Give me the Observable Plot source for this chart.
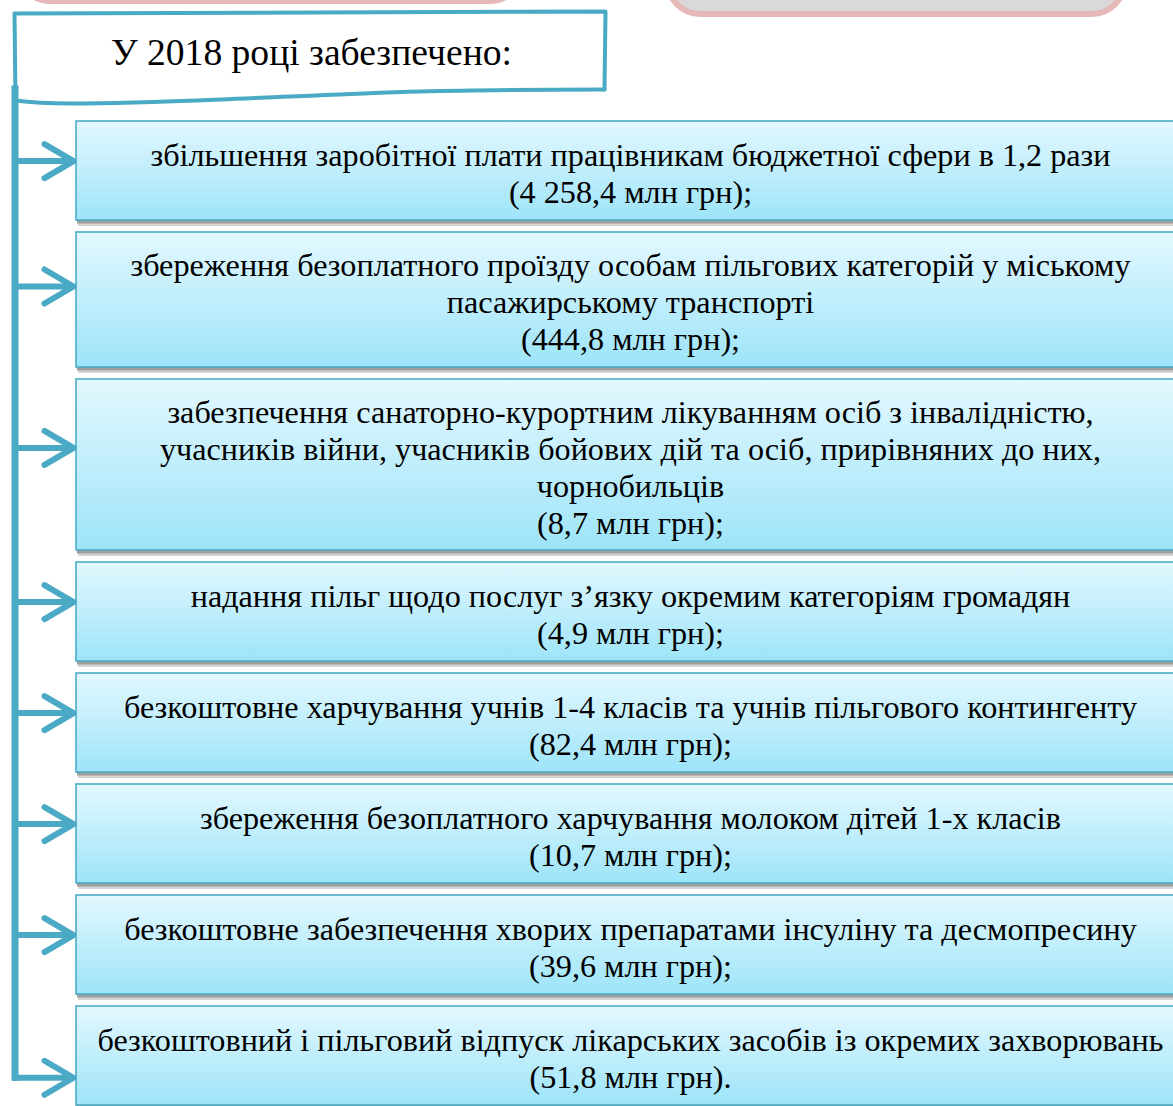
<!DOCTYPE html>
<html><head><meta charset="utf-8">
<script src="https://cdn.jsdelivr.net/npm/d3@7"></script>
<script src="https://cdn.jsdelivr.net/npm/@observablehq/plot@0.6"></script>
<style>html,body{margin:0;padding:0;background:#fff;overflow:hidden}</style>
</head><body><div id="chart"></div>
<script>
// ---- data ----
const title = "У 2018 році забезпечено:";
const measures = [
  ["збільшення заробітної плати працівникам бюджетної сфери в 1,2 рази"],
  ["збереження безоплатного проїзду особам пільгових категорій у міському", "пасажирському транспорті"],
  ["забезпечення санаторно-курортним лікуванням осіб з інвалідністю,", "учасників війни, учасників бойових дій та осіб, прирівняних до них,", "чорнобильців"],
  ["надання пільг щодо послуг з’язку окремим категоріям громадян"],
  ["безкоштовне харчування учнів 1-4 класів та учнів пільгового контингенту"],
  ["збереження безоплатного харчування молоком дітей 1-х класів"],
  ["безкоштовне забезпечення хворих препаратами інсуліну та десмопресину"],
  ["безкоштовний і пільговий відпуск лікарських засобів із окремих захворювань"]
];
const amounts = [4258.4, 444.8, 8.7, 4.9, 82.4, 10.7, 39.6, 51.8];
const unit = "млн грн";

// ---- layout (derived from line counts) ----
const W = 1173, H = 1106;
const fmt = d3.formatLocale({decimal: ",", thousands: " ", grouping: [3]}).format(",.1f");
const blue = "#4aa9c5";
const boxX1 = 76, boxX2 = 1195, textX = 630;
const lineStep = 37, gap = 12;
let cursor = 121;
const boxes = measures.map((lines, i) => {
  const all = [...lines, `(${fmt(amounts[i])} ${unit})${i === measures.length - 1 ? "." : ";"}`];
  const n = all.length;
  const h = 27 + 36 * n;
  const b = {i, lines: all, y1: cursor, y2: cursor + h, h};
  b.cy = cursor + h / 2 + 3;
  b.ay = i === measures.length - 1 ? cursor + h * 0.72 : cursor + h * 0.40;
  cursor += h + gap;
  return b;
});
const textRows = boxes.flatMap(b => b.lines.map((t, k) => ({
  text: t, y: b.cy + (k - (b.lines.length - 1) / 2) * lineStep
})));
const wings = boxes.flatMap(b => [
  {id: b.i, x: 44, y: b.ay - 17},
  {id: b.i, x: 73, y: b.ay},
  {id: b.i, x: 44, y: b.ay + 17}
]);
const lastY = boxes[boxes.length - 1].ay;

const headerPts = [
  {x: 15, y: 100}, {x: 14, y: 13}, {x: 605, y: 11}, {x: 604, y: 89}
];
const headerWave = [
  {x: 604, y: 89}, {x: 420, y: 91}, {x: 220, y: 99}, {x: 70, y: 103}, {x: 15, y: 100}
];
const pinkBoxes = [
  {x1: 18, x2: 522, y1: -70, y2: 1},
  {x1: 668, x2: 1124, y1: -70, y2: 14}
];
const c = v => () => v;
const serif = "Liberation Serif, Times New Roman, serif";

const plot = Plot.plot({
  width: W, height: H,
  margin: 0,
  x: {domain: [0, W], range: [0, W], axis: null},
  y: {domain: [0, H], range: [0, H], axis: null},
  style: {background: "#fff"},
  marks: [
    // top decorative boxes
    Plot.rect(pinkBoxes, {x1: "x1", x2: "x2", y1: "y1", y2: "y2", rx: 32, fill: "#d9d9d9", stroke: "#e6b8b7", strokeWidth: 6}),
    // header
    Plot.line(headerPts.concat(headerWave), {x: "x", y: "y", fill: "#fff", stroke: "none"}),
    Plot.line(headerPts, {x: "x", y: "y", stroke: blue, strokeWidth: 4, strokeLinejoin: "round"}),
    Plot.line(headerWave, {x: "x", y: "y", stroke: blue, strokeWidth: 4, curve: "natural"}),
    Plot.text([title], {x: c(311), y: c(52), text: d => d, fontFamily: serif, fontSize: 37.6, fill: "#000"}),
    // box shadows
    Plot.rect(boxes, {x1: c(boxX1 + 2), x2: c(boxX2), y1: d => d.y1 + 5, y2: d => d.y2 + 6, fill: "#d4d4d4"}),
    Plot.rect(boxes, {x1: c(boxX1 + 1), x2: c(boxX2), y1: d => d.y1 + 3, y2: d => d.y2 + 3.5, fill: "#9e9e9e"}),
    // boxes
    Plot.rect(boxes, {x1: c(boxX1), x2: c(boxX2), y1: "y1", y2: "y2", fill: "url(#boxGrad)", stroke: "#4bacc6", strokeWidth: 1.6}),
    Plot.text(textRows, {x: c(textX), y: "y", text: "text", fontFamily: serif, fontSize: 32.2, fill: "#000"}),
    // connector
    Plot.link([{y1: 85, y2: lastY + 3}], {x1: c(14.5), x2: c(14.5), y1: "y1", y2: "y2", stroke: blue, strokeWidth: 7}),
    Plot.link(boxes, {x1: c(12), x2: c(72), y1: "ay", y2: "ay", stroke: blue, strokeWidth: 6}),
    Plot.line(wings, {x: "x", y: "y", z: "id", stroke: blue, strokeWidth: 6, strokeLinecap: "round", strokeLinejoin: "round"})
  ]
});

const svg = d3.select(plot);
const defs = svg.insert("defs", ":first-child");
const lg = defs.append("linearGradient").attr("id", "boxGrad").attr("x1", 0).attr("y1", 0).attr("x2", 0).attr("y2", 1);
lg.append("stop").attr("offset", "0%").attr("stop-color", "#e3f8fe");
lg.append("stop").attr("offset", "100%").attr("stop-color", "#9de4f9");
document.getElementById("chart").appendChild(plot);
</script>
</body></html>
